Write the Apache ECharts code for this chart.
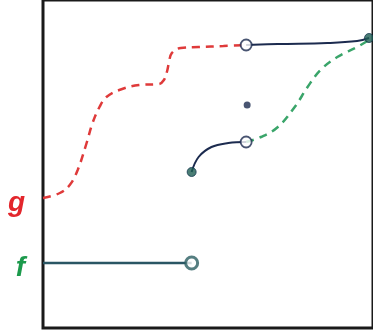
<!DOCTYPE html>
<html>
<head>
<meta charset="utf-8">
<script src="https://cdn.jsdelivr.net/npm/echarts@6/dist/echarts.min.js"></script>
<style>
  html, body { margin: 0; padding: 0; background: #fff; }
  #chart { width: 373px; height: 335px; }
</style>
</head>
<body>
<div id="chart"></div>
<script>
// points, x and y in the plot's own units
var fLine = [[0, 65], [150, 65]]
var gDashed = [[0, 130], [17, 135], [27, 143], [35, 158], [44, 185], [50, 205], [57, 221], [64, 231],
    [77, 238], [97, 243], [117, 244], [122, 248], [125, 256], [127, 265], [130, 275], [139, 280],
    [157, 281], [182, 282], [205, 283]]
var topSolid = [[205, 283], [237, 284], [287, 285], [317, 287], [329, 290]]
var midSolid = [[150, 156], [157, 171], [170, 181], [187, 185], [205, 186]]
var greenDashed = [[205, 186], [220, 191], [237, 201], [254, 221], [267, 241], [280, 258],
    [297, 271], [317, 281], [329, 288]]
var openPoints = [[205, 283], [205, 186]]
var fOpen = [[150, 65]]
var filledPoints = [[150, 156], [329, 290]]
var loneDot = [[206, 223]]
var axisNames = { 65: 'f', 130: 'g' }

var navy = '#1c2b4f'
var chart = echarts.init(document.getElementById('chart'))

var option = {
    animation: false,
    grid: {
        left: 43,
        right: -3,
        top: 0,
        bottom: 7,
        show: true,
        borderColor: '#1a1a1a',
        borderWidth: 3,
    },
    xAxis: {
        type: 'value',
        min: 0,
        max: 333,
        axisLine: { show: false },
        axisTick: { show: false },
        axisLabel: { show: false },
        splitLine: { show: false },
    },
    yAxis: {
        type: 'value',
        min: 0,
        max: 328,
        interval: 65,
        axisLine: { show: false },
        axisTick: { show: false },
        splitLine: { show: false },
        axisLabel: {
            margin: 18,
            formatter: function (v) {
                var n = axisNames[v]
                return n ? '{' + n + '|' + n + '}' : ''
            },
            rich: {
                f: { color: '#1c9a4c', fontSize: 28, fontWeight: 'bold', fontStyle: 'italic',
                    fontFamily: 'Liberation Sans', padding: [10, 0, 0, 0] },
                g: { color: '#e3262c', fontSize: 28, fontWeight: 'bold', fontStyle: 'italic',
                    fontFamily: 'Liberation Sans', padding: [10, 0, 0, 0] },
            },
        },
    },
    series: [
        {
            type: 'line', data: fLine, symbol: 'none',
            lineStyle: { color: '#2a5664', width: 2.5 },
        },
        {
            type: 'line', data: gDashed, symbol: 'none', smooth: 0.4,
            lineStyle: { color: '#df3a3a', width: 2.5, type: [8, 6] },
        },
        {
            type: 'line', data: greenDashed, symbol: 'none', smooth: 0.4,
            lineStyle: { color: '#3aa56a', width: 2.5, type: [8, 6] },
        },
        {
            type: 'line', data: topSolid, symbol: 'none', smooth: 0.4,
            lineStyle: { color: navy, width: 2 },
        },
        {
            type: 'line', data: midSolid, symbol: 'none', smooth: 0.4,
            lineStyle: { color: navy, width: 2 },
        },
        {
            type: 'scatter', data: filledPoints, symbolSize: 9, z: 5,
            itemStyle: { color: '#1d5e52', borderColor: '#163a50', borderWidth: 1 },
        },
        {
            type: 'scatter', data: loneDot, symbolSize: 7, z: 5,
            itemStyle: { color: navy },
        },
        {
            type: 'scatter', data: openPoints, symbolSize: 11, z: 6,
            itemStyle: { color: '#fff', borderColor: navy, borderWidth: 1.8 },
        },
        {
            type: 'scatter', data: fOpen, symbolSize: 12, z: 6,
            itemStyle: { color: '#fff', borderColor: '#2a5e62', borderWidth: 3 },
        },
    ],
}

chart.setOption(option)
window.addEventListener('resize', function () {
    chart.resize()
})
</script>
</body>
</html>
